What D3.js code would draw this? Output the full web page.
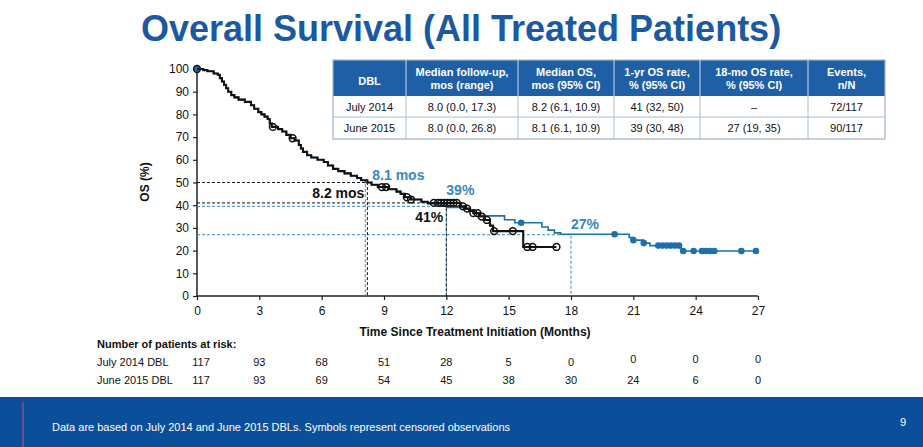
<!DOCTYPE html>
<html><head><meta charset="utf-8">
<script src="https://cdn.jsdelivr.net/npm/d3@7"></script>
<style>
body{margin:0;background:#fff;}
svg{display:block;font-family:Arial,"Liberation Sans",sans-serif;}
</style></head>
<body><svg id="c" width="923" height="447"></svg>
<script>
// ---- data ----
const titleText = "Overall Survival (All Treated Patients)";
const xTicks = [0,3,6,9,12,15,18,21,24,27];
const yTicks = [0,10,20,30,40,50,60,70,80,90,100];
// July 2014 DBL step curve [month, OS%]
const july2014 = [[0,100],[0.3,99.5],[0.5,99],[0.8,98],[1.0,97.5],[1.1,96],[1.2,94.5],[1.3,93],[1.4,91.5],[1.5,90],[1.65,88.5],[1.8,87.5],[2.0,86.5],[2.3,85.5],[2.6,84],[2.75,82.5],[2.95,81],[3.1,80],[3.25,79],[3.4,78],[3.5,76],[3.6,74.5],[3.9,73.5],[4.1,72.5],[4.3,71],[4.5,69.5],[4.7,68.5],[4.9,66.5],[5.0,65],[5.1,63.5],[5.3,62],[5.5,61],[5.8,60],[6.1,59],[6.3,57.5],[6.55,56],[6.8,55],[7.1,54],[7.4,53],[7.7,52],[7.9,51],[8.2,50],[8.4,49],[8.7,48],[9.2,47],[9.6,46],[9.8,45],[10.0,43.5],[10.3,42.5],[10.8,41.5],[11.1,41],[12.7,39.5],[12.9,38.5],[13.1,37.5],[13.3,36.5],[13.6,35],[13.85,33.5],[14.1,31],[14.25,28.6],[15.7,21.6],[17.3,21.6]];
const july2014Censored = [0,3.65,4.6,8.9,9.1,10.1,10.3,11.4,11.6,11.75,11.9,12.05,12.2,12.35,12.5,12.8,13.0,13.3,13.5,13.7,13.95,14.3,15.2,15.9,16.15,17.3];
// June 2015 DBL step curve
const june2015 = [[0,100],[0.3,99.5],[0.5,99],[0.8,98],[1.0,97.5],[1.1,96],[1.2,94.5],[1.3,93],[1.4,91.5],[1.5,90],[1.65,88.5],[1.8,87.5],[2.0,86.5],[2.3,85.5],[2.6,84],[2.75,82.5],[2.95,81],[3.1,80],[3.25,79],[3.4,78],[3.5,76],[3.6,74.5],[3.9,73.5],[4.1,72.5],[4.3,71],[4.5,69.5],[4.7,68.5],[4.9,66.5],[5.0,65],[5.1,63.5],[5.3,62],[5.5,61],[5.8,60],[6.1,59],[6.3,57.5],[6.55,56],[6.8,55],[7.1,54],[7.4,53],[7.7,52],[7.9,51],[8.1,50],[8.4,49],[8.7,48],[9.2,47],[9.6,46],[9.8,45],[10.0,43.5],[10.3,42.5],[10.8,41.5],[11.1,40.5],[12.0,39],[12.9,38.5],[13.1,37.5],[13.3,36.5],[13.6,35.3],[14.8,33.6],[15.3,32.3],[16.6,30.4],[16.9,29],[17.2,27.8],[17.5,27.2],[20.8,25.8],[21.0,24.6],[21.5,23.3],[21.8,22.2],[23.3,19.8],[26.9,19.8]];
const june2015Censored = [0,15.6,20.1,21.0,21.5,22.2,22.4,22.6,22.8,23.0,23.2,23.4,23.9,24.3,24.5,24.7,24.9,26.2,26.9];
// median / landmark reference lines [month, OS%]
const refBlack = [[8.2,50],[12,41]];
const refBlue = [[8.1,50],[12,39.5],[18,27]];
// annotations
const annotations = [
  {text:"8.1 mos", t:8.1, s:50, dx:7, dy:-3, color:"blue", anchor:"start"},
  {text:"8.2 mos", t:8.2, s:50, dx:-3, dy:15, color:"black", anchor:"end"},
  {text:"39%", t:12, s:39.5, dx:0, dy:-11, color:"blue", anchor:"start"},
  {text:"41%", t:12, s:41, dx:-3, dy:19, color:"black", anchor:"end"},
  {text:"27%", t:18, s:27, dx:0, dy:-6, color:"blue", anchor:"start"}
];
// summary table
const tableHeaders = [["DBL"],["Median follow-up,","mos (range)"],["Median OS,","mos (95% CI)"],["1-yr OS rate,","% (95% CI)"],["18-mo OS rate,","% (95% CI)"],["Events,","n/N"]];
const tableRows = [
  ["July 2014","8.0 (0.0, 17.3)","8.2 (6.1, 10.9)","41 (32, 50)","\u2013","72/117"],
  ["June 2015","8.0 (0.0, 26.8)","8.1 (6.1, 10.9)","39 (30, 48)","27 (19, 35)","90/117"]
];
// patients at risk
const riskLabels = ["July 2014 DBL","June 2015 DBL"];
const riskJuly2014 = [117,93,68,51,28,5,0,0,0,0];
const riskJune2015 = [117,93,69,54,45,38,30,24,6,0];
const footerText = "Data are based on July 2014 and June 2015 DBLs. Symbols represent censored observations";
const pageNumber = "9";

// ---- drawing ----
const BLUE = "#1f6fab", LBLUE = "#3a87bd", BLACK = "#111";
const svg = d3.select("#c");
const x = d3.scaleLinear().domain([0,27]).range([197,758]);
const y = d3.scaleLinear().domain([0,100]).range([296,69]);

svg.append("text").attr("x",461).attr("y",41).attr("text-anchor","middle")
  .attr("font-size",36).attr("font-weight","bold").attr("fill","#1b59a3").text(titleText);

// table
const colEdges = [333,406,518,614,700,808,885];
const rowEdges = [60,96,117,139];
const tg = svg.append("g");
tg.append("rect").attr("x",colEdges[0]).attr("y",rowEdges[0]).attr("width",colEdges[6]-colEdges[0]).attr("height",rowEdges[1]-rowEdges[0]).attr("fill","#1f5fa6");
tg.append("rect").attr("x",colEdges[0]).attr("y",rowEdges[0]).attr("width",colEdges[6]-colEdges[0]).attr("height",rowEdges[3]-rowEdges[0]).attr("fill","none").attr("stroke","#9fb3c8").attr("stroke-width",1.2);
colEdges.slice(1,-1).forEach(cx=>{
  tg.append("line").attr("x1",cx).attr("x2",cx).attr("y1",rowEdges[0]).attr("y2",rowEdges[1]).attr("stroke","#d0dcea").attr("stroke-width",1);
  tg.append("line").attr("x1",cx).attr("x2",cx).attr("y1",rowEdges[1]).attr("y2",rowEdges[3]).attr("stroke","#a9bcd0").attr("stroke-width",1);
});
tg.append("line").attr("x1",colEdges[0]).attr("x2",colEdges[6]).attr("y1",rowEdges[2]).attr("y2",rowEdges[2]).attr("stroke","#a9bcd0");
tableHeaders.forEach((h,i)=>{
  const cx=(colEdges[i]+colEdges[i+1])/2;
  const t=tg.append("text").attr("text-anchor","middle").attr("font-size",11).attr("font-weight","bold").attr("fill","#fff");
  if(h.length===1){ t.attr("x",cx).attr("y",85).text(h[0]); }
  else { h.forEach((ln,j)=>t.append("tspan").attr("x",cx).attr("y",76+j*13).text(ln)); }
});
tableRows.forEach((r,ri)=>{
  r.forEach((v,i)=>{
    tg.append("text").attr("x",(colEdges[i]+colEdges[i+1])/2).attr("y",(rowEdges[ri+1]+rowEdges[ri+2])/2+4)
      .attr("text-anchor","middle").attr("font-size",11).attr("fill","#111").text(v);
  });
});

// axes
const xAxis = svg.append("g").attr("transform","translate(0,296)")
  .call(d3.axisBottom(x).tickValues(xTicks).tickSize(4).tickPadding(6));
const yAxis = svg.append("g").attr("transform","translate(197,0)")
  .call(d3.axisLeft(y).tickValues(yTicks).tickSize(4).tickPadding(4));
[xAxis,yAxis].forEach(a=>{
  a.select(".domain").attr("stroke","#222").attr("stroke-width",1.5);
  a.selectAll(".tick line").attr("stroke","#222").attr("stroke-width",1.2);
  a.selectAll(".tick text").attr("font-size",12).attr("fill","#111").attr("font-family","Arial, 'Liberation Sans', sans-serif");
});
xAxis.select(".domain").attr("d","M197,0H758");
yAxis.select(".domain").attr("d","M0,296V69");
svg.append("text").attr("x",475).attr("y",336).attr("text-anchor","middle").attr("font-size",12).attr("font-weight","bold").attr("fill","#111").text("Time Since Treatment Initiation (Months)");
svg.append("text").attr("transform","translate(149,182) rotate(-90)").attr("text-anchor","middle").attr("font-size",12).attr("font-weight","bold").attr("fill","#111").text("OS (%)");

// reference dashed lines
function refLines(data,color){
  data.forEach(([t,s])=>{
    svg.append("path").attr("d",`M${x(0)},${y(s)}H${x(t)}V${y(0)}`)
      .attr("fill","none").attr("stroke",color).attr("stroke-width",1).attr("stroke-dasharray","3,2");
  });
}
refLines(refBlue,LBLUE);
refLines(refBlack,BLACK);

// step function helper
function valueAt(curve,t){ let v=curve[0][1]; for(const p of curve){ if(p[0]<=t) v=p[1]; else break; } return v; }
const line = d3.line().x(d=>x(d[0])).y(d=>y(d[1])).curve(d3.curveStepAfter);

// June 2015 (blue) under
svg.append("path").datum(june2015).attr("d",line).attr("fill","none").attr("stroke",BLUE).attr("stroke-width",1.6);
svg.selectAll(".cb").data(june2015Censored).join("circle").attr("class","cb")
  .attr("cx",d=>x(d)).attr("cy",d=>y(valueAt(june2015,d))).attr("r",3.3).attr("fill",BLUE);

// July 2014 (black) on top
svg.append("path").datum(july2014).attr("d",line).attr("fill","none").attr("stroke",BLACK).attr("stroke-width",2.1);
svg.selectAll(".ck").data(july2014Censored).join("circle").attr("class","ck")
  .attr("cx",d=>x(d)).attr("cy",d=>y(valueAt(july2014,d))).attr("r",3.4).attr("fill","none").attr("stroke",BLACK).attr("stroke-width",1.5);

// annotations
annotations.forEach(a=>{
  svg.append("text").attr("x",x(a.t)+a.dx).attr("y",y(a.s)+a.dy).attr("text-anchor",a.anchor)
    .attr("font-size",14).attr("font-weight","bold").attr("fill",a.color==="blue"?LBLUE:BLACK).text(a.text);
});

// patients at risk
svg.append("text").attr("x",97).attr("y",348).attr("font-size",11).attr("font-weight","bold").attr("fill","#111").text("Number of patients at risk:");
[riskJuly2014,riskJune2015].forEach((row,ri)=>{
  const yy = 366+ri*18;
  svg.append("text").attr("x",97).attr("y",yy).attr("font-size",11).attr("fill","#111").text(riskLabels[ri]);
  row.forEach((v,i)=>{
    svg.append("text").attr("x",x(xTicks[i])+(i===0?4:0)).attr("y",yy-(ri===0&&i>=7?3:0)).attr("text-anchor","middle").attr("font-size",11).attr("fill","#111").text(v);
  });
});

// footer
svg.append("rect").attr("x",0).attr("y",397).attr("width",923).attr("height",50).attr("fill","#0b4f9a");
svg.append("line").attr("x1",23).attr("x2",23).attr("y1",402).attr("y2",447).attr("stroke","#8a4f8f").attr("stroke-width",1.5);
svg.append("text").attr("x",52).attr("y",431).attr("font-size",11).attr("fill","#fff").text(footerText);
svg.append("text").attr("x",903).attr("y",426).attr("text-anchor","middle").attr("font-size",11).attr("fill","#fff").text(pageNumber);
</script></body></html>
